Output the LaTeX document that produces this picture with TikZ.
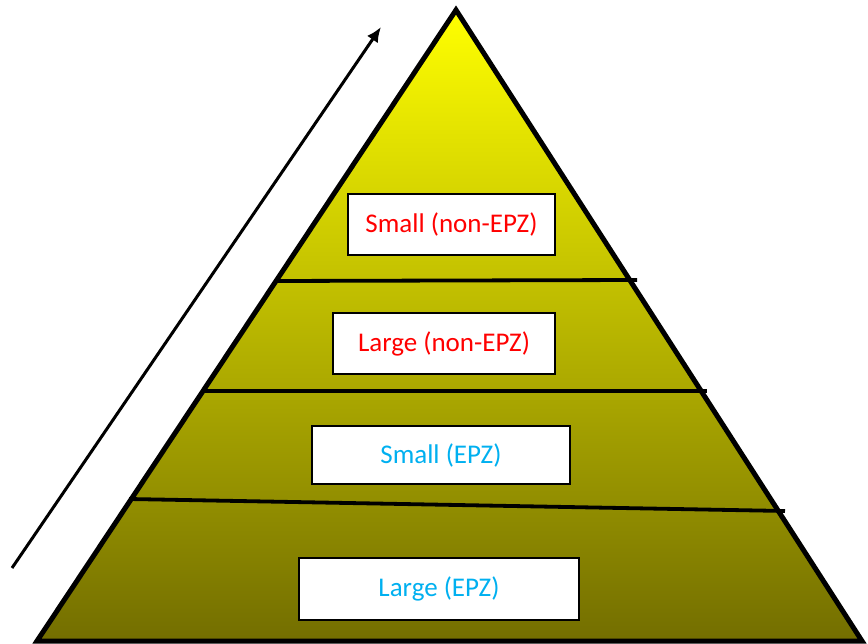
\documentclass[tikz,border=0pt]{standalone}
\usepackage{fontspec}
\setmainfont{Carlito}
\usetikzlibrary{arrows.meta,positioning}
\definecolor{olivebase}{RGB}{115,110,0}
\definecolor{epzblue}{RGB}{0,176,240}

\begin{document}
\begin{tikzpicture}[x=1pt, y=-1pt,
  tier/.style={draw, fill=white, line width=1.5pt, inner sep=0pt, font=\fontsize{27}{31}\selectfont},
  divider/.style={line width=3.8pt}]
\useasboundingbox (0,0) rectangle (868,644);

% pyramid corners
\coordinate (apex) at (456,10);
\coordinate (baseL) at (37,641);
\coordinate (baseR) at (862,641);
\shade[top color=yellow, bottom color=olivebase] (apex) -- (baseR) -- (baseL) -- cycle;

% dividers between the tiers
\coordinate (d1L) at (276,281);
\coordinate (d1R) at (637,280);
\coordinate (d2L) at (205,391);
\coordinate (d2R) at (707,391);
\coordinate (d3L) at (129,499);
\coordinate (d3R) at (785,511);
\draw[divider] (d1L) -- (d1R);
\draw[divider] (d2L) -- (d2R);
\draw[divider] (d3L) -- (d3R);

\draw[line width=5pt, line join=miter] (apex) -- (baseR) -- (baseL) -- cycle;

% tier labels
\node[tier, minimum width=207pt, minimum height=61pt, text=red] (smallnon) at (451.5,224.5) {Small (non-EPZ)};
\node[tier, minimum width=222pt, minimum height=61pt, text=red] (largenon) at (444,343.5) {Large (non-EPZ)};
\node[tier, minimum width=258pt, minimum height=58pt, text=epzblue] (smallepz) at (441,455) {Small (EPZ)};
\node[tier, minimum width=280pt, minimum height=62pt, text=epzblue] (largeepz) at (439,589) {Large (EPZ)};

% rising arrow
\coordinate (arrS) at (12,568);
\coordinate (arrE) at (381,27);
\draw[-{Latex[length=15pt,width=13pt]}, line width=3pt] (arrS) -- (arrE);
\end{tikzpicture}
\end{document}
